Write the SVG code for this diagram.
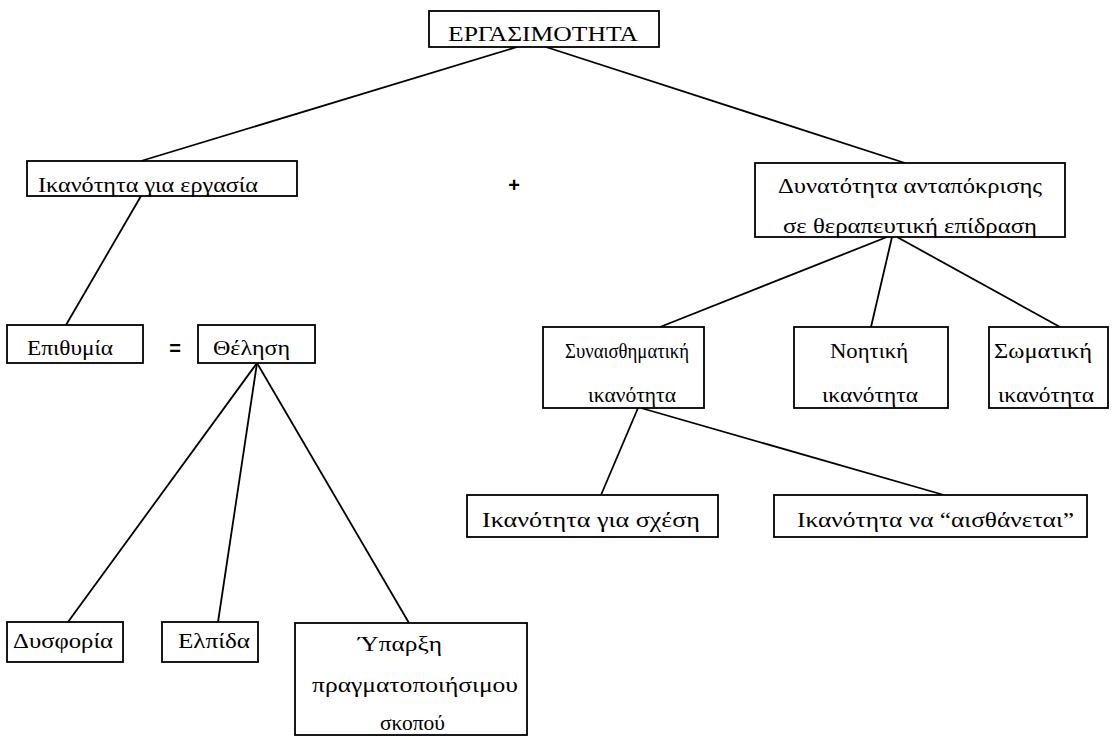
<svg xmlns="http://www.w3.org/2000/svg" width="1117" height="736" viewBox="0 0 1117 736">
<style>
rect{fill:#fff;stroke:#000;stroke-width:1.8}
line{stroke:#000;stroke-width:1.8}
text{font-family:"Liberation Serif","Times New Roman","DejaVu Serif",serif;font-size:20px;fill:#000}
.s{font-family:"Liberation Sans","DejaVu Sans",sans-serif;font-size:20px;font-weight:bold}
</style>
<rect x="0" y="0" width="1117" height="736" style="stroke:none"/>
<g id="connectors">
<line x1="517" y1="47" x2="141" y2="161"/>
<line x1="546" y1="47" x2="905" y2="163"/>
<line x1="141" y1="196" x2="66" y2="325"/>
<line x1="257" y1="363" x2="68" y2="622"/>
<line x1="257" y1="363" x2="218" y2="622"/>
<line x1="257" y1="363" x2="409" y2="623"/>
<line x1="887" y1="237" x2="660" y2="327"/>
<line x1="892" y1="237" x2="871" y2="327"/>
<line x1="897" y1="237" x2="1060" y2="327"/>
<line x1="638" y1="408" x2="601" y2="495"/>
<line x1="641" y1="408" x2="944" y2="495"/>
</g>
<g id="n-root"><rect x="429" y="11" width="230" height="36"/><text x="448" y="41" textLength="190" lengthAdjust="spacingAndGlyphs">ΕΡΓΑΣΙΜΟΤΗΤΑ</text></g>
<g id="n-ikanotita"><rect x="27" y="161" width="270" height="35"/><text x="38" y="192" textLength="220" lengthAdjust="spacingAndGlyphs">Ικανότητα για εργασία</text></g>
<g id="n-plus"><text class="s" x="514" y="192" text-anchor="middle">+</text></g>
<g id="n-dynatotita"><rect x="755" y="163" width="310" height="74"/><text x="778" y="193" textLength="264" lengthAdjust="spacingAndGlyphs">Δυνατότητα ανταπόκρισης</text><text x="783" y="233" textLength="254" lengthAdjust="spacingAndGlyphs">σε θεραπευτική επίδραση</text></g>
<g id="n-epithymia"><rect x="7" y="325" width="136" height="38"/><text x="27" y="355" textLength="86" lengthAdjust="spacingAndGlyphs">Επιθυμία</text></g>
<g id="n-equals"><text class="s" x="175" y="355" text-anchor="middle">=</text></g>
<g id="n-thelisi"><rect x="198" y="325" width="117" height="38"/><text x="213" y="355" textLength="77" lengthAdjust="spacingAndGlyphs">Θέληση</text></g>
<g id="n-synais"><rect x="543" y="327" width="161" height="81"/><text x="565" y="358" textLength="124" lengthAdjust="spacingAndGlyphs">Συναισθηματική</text><text x="588" y="402" textLength="88" lengthAdjust="spacingAndGlyphs">ικανότητα</text></g>
<g id="n-noitiki"><rect x="794" y="327" width="154" height="81"/><text x="830" y="358" textLength="78" lengthAdjust="spacingAndGlyphs">Νοητική</text><text x="822" y="402" textLength="96" lengthAdjust="spacingAndGlyphs">ικανότητα</text></g>
<g id="n-somatiki"><rect x="989" y="327" width="119" height="81"/><text x="994" y="358" textLength="98" lengthAdjust="spacingAndGlyphs">Σωματική</text><text x="998" y="402" textLength="96" lengthAdjust="spacingAndGlyphs">ικανότητα</text></g>
<g id="n-schesi"><rect x="467" y="495" width="251" height="42"/><text x="482" y="527" textLength="218" lengthAdjust="spacingAndGlyphs">Ικανότητα για σχέση</text></g>
<g id="n-aisth"><rect x="774" y="495" width="313" height="42"/><text x="797" y="527" textLength="277" lengthAdjust="spacingAndGlyphs">Ικανότητα να “αισθάνεται”</text></g>
<g id="n-dysforia"><rect x="7" y="622" width="116" height="40"/><text x="13" y="648" textLength="100" lengthAdjust="spacingAndGlyphs">Δυσφορία</text></g>
<g id="n-elpida"><rect x="162" y="622" width="96" height="40"/><text x="178" y="648" textLength="72" lengthAdjust="spacingAndGlyphs">Ελπίδα</text></g>
<g id="n-yparxi"><rect x="295" y="623" width="232" height="112"/><text x="358" y="651" textLength="84" lengthAdjust="spacingAndGlyphs">Ύπαρξη</text><text x="312" y="692" textLength="206" lengthAdjust="spacingAndGlyphs">πραγματοποιήσιμου</text><text x="380" y="730" textLength="65" lengthAdjust="spacingAndGlyphs">σκοπού</text></g>
</svg>
